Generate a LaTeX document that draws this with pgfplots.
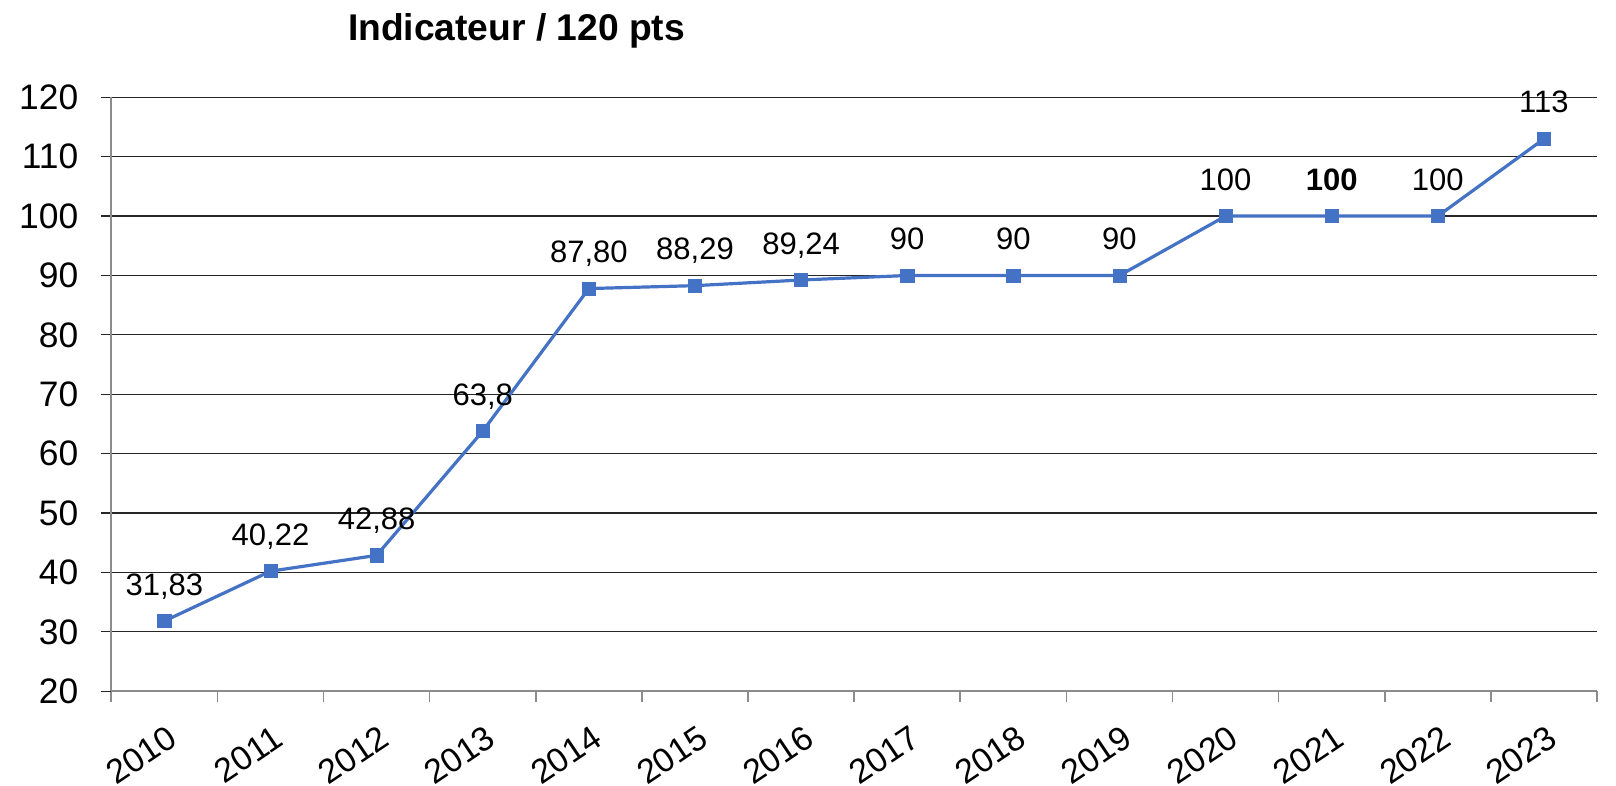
\documentclass[border=0pt]{standalone}
\usepackage{pgfplots}
\pgfplotsset{compat=1.18}
\usepackage{fontspec}
\setmainfont{Liberation Sans}
\definecolor{ser}{HTML}{4472C4}
\begin{document}
\begin{tikzpicture}
\useasboundingbox (-55.65pt,-47.35pt) rectangle (752.35pt,345.65pt);
\begin{axis}[
  at={(0,0)}, anchor=south west,
  scale only axis, width=742.85pt, height=297pt,
  xmin=-0.5, xmax=13.5, ymin=20, ymax=120,
  clip=false,
  axis x line=bottom, axis y line=left,
  axis line style={-, draw=black!45, line width=0.8pt},
  tick align=outside,
  major tick length=5.3pt, minor tick length=5.3pt,
  xtick={0,1,2,3,4,5,6,7,8,9,10,11,12,13},
  xticklabels={2010,2011,2012,2013,2014,2015,2016,2017,2018,2019,2020,2021,2022,2023},
  major x tick style={draw=none},
  minor xtick={-0.5,0.5,1.5,2.5,3.5,4.5,5.5,6.5,7.5,8.5,9.5,10.5,11.5,12.5,13.5},
  minor x tick style={draw=black!45, line width=0.8pt},
  ytick={20,30,40,50,60,70,80,90,100,110,120},
  y tick style={draw=black!85, line width=0.6pt},
  ymajorgrids, grid style={black!85, line width=0.6pt},
  /pgf/number format/assume math mode=true,
  yticklabel style={font=\fontsize{17.7}{20}\selectfont, anchor=east, inner sep=0pt, xshift=-11pt},
  xticklabel style={font=\fontsize{17}{20}\selectfont, rotate=34, anchor=north east, inner sep=0pt, xshift=-5.3pt, yshift=-9.4pt},
]
\addplot[color=ser, line width=1.6pt, mark=square*, mark size=3.3pt,
  mark options={solid, line width=0.3pt},
  nodes near coords, point meta=explicit symbolic,
  nodes near coords style={font=\fontsize{15.5}{18}\selectfont, anchor=base, yshift=13pt, text=black, inner sep=0pt}]
coordinates {
(0,31.83) [31,83]
(1,40.22) [40,22]
(2,42.88) [42,88]
(3,63.8) [63,8]
(4,87.80) [87,80]
(5,88.29) [88,29]
(6,89.24) [89,24]
(7,90) [90]
(8,90) [90]
(9,90) [90]
(10,100) [100]
(11,100) [\textbf{100}]
(12,100) [100]
(13,113) [113]
};
\end{axis}
\node[font=\bfseries\fontsize{18.6}{22}\selectfont, anchor=base] at (202.6pt,325.15pt) {Indicateur / 120 pts};
\end{tikzpicture}
\end{document}
